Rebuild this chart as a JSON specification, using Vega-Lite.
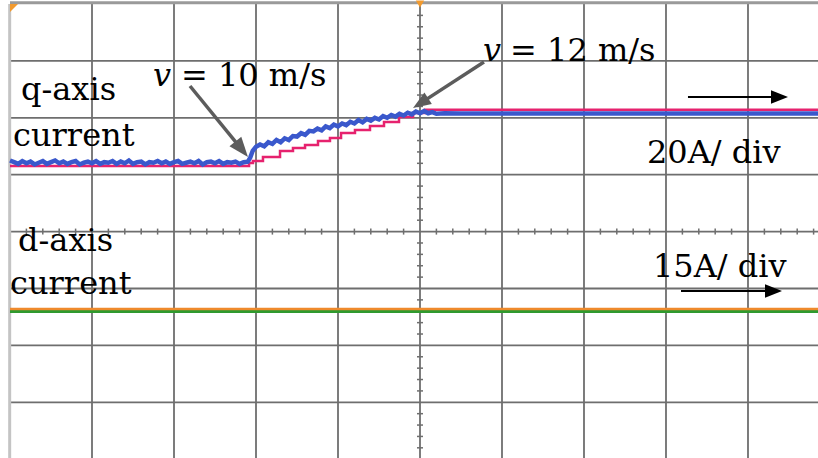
{
  "$schema": "https://vega.github.io/schema/vega-lite/v6.json",
  "width": 808,
  "height": 454,
  "autosize": {"type": "none"},
  "padding": {"left": 10, "top": 4, "right": 0, "bottom": 0},
  "background": "white",
  "config": {"view": {"stroke": null}},
  "datasets": {
    "xticks": [{"x":0.2},{"x":0.4},{"x":0.6},{"x":0.8},{"x":1.2},{"x":1.4},{"x":1.6},{"x":1.8},{"x":2.2},{"x":2.4},{"x":2.6},{"x":2.8},{"x":3.2},{"x":3.4},{"x":3.6},{"x":3.8},{"x":4.2},{"x":4.4},{"x":4.6},{"x":4.8},{"x":5.2},{"x":5.4},{"x":5.6},{"x":5.8},{"x":6.2},{"x":6.4},{"x":6.6},{"x":6.8},{"x":7.2},{"x":7.4},{"x":7.6},{"x":7.8},{"x":8.2},{"x":8.4},{"x":8.6},{"x":8.8},{"x":9.2},{"x":9.4},{"x":9.6},{"x":9.8}],
    "yticks": [{"y":3.8},{"y":3.6},{"y":3.4},{"y":3.2},{"y":2.8},{"y":2.6},{"y":2.4},{"y":2.2},{"y":1.8},{"y":1.6},{"y":1.4},{"y":1.2},{"y":0.8},{"y":0.6},{"y":0.4},{"y":0.2},{"y":-0.2},{"y":-0.4},{"y":-0.6},{"y":-0.8},{"y":-1.2},{"y":-1.4},{"y":-1.6},{"y":-1.8},{"y":-2.2},{"y":-2.4},{"y":-2.6},{"y":-2.8},{"y":-3.2},{"y":-3.4},{"y":-3.6},{"y":-3.8}],
    "vgrid": [{"x": 1}, {"x": 2}, {"x": 3}, {"x": 4}, {"x": 5}, {"x": 6}, {"x": 7}, {"x": 8}, {"x": 9}],
    "hgrid": [{"y": 3}, {"y": 2}, {"y": 1}, {"y": 0}, {"y": -1}, {"y": -2}, {"y": -3}],
    "leftBorder": [{"x": -0.004}],
    "topBorder": [{"y": 4.02}],
    "dGreen": [{"x": 0, "y": -1.404}, {"x": 9.86, "y": -1.404}],
    "dOrange": [{"x": 0, "y": -1.36}, {"x": 9.86, "y": -1.36}],
    "qPink": [
      {"x": 0, "y": 1.153}, {"x": 2.915, "y": 1.206}, {"x": 2.963, "y": 1.241}, {"x": 3.085, "y": 1.311},
      {"x": 3.293, "y": 1.417}, {"x": 3.451, "y": 1.469}, {"x": 3.598, "y": 1.522}, {"x": 3.756, "y": 1.592},
      {"x": 3.902, "y": 1.645}, {"x": 4.037, "y": 1.733}, {"x": 4.207, "y": 1.786}, {"x": 4.39, "y": 1.856},
      {"x": 4.561, "y": 1.926}, {"x": 4.744, "y": 2.014}, {"x": 4.915, "y": 2.084}, {"x": 5.061, "y": 2.14},
      {"x": 9.86, "y": 2.14}
    ],
    "qBlue": [
      {"x":0.00,"y":1.25},{"x":0.05,"y":1.22},{"x":0.10,"y":1.19},{"x":0.15,"y":1.24},{"x":0.20,"y":1.20},{"x":0.25,"y":1.23},
      {"x":0.30,"y":1.18},{"x":0.35,"y":1.21},{"x":0.40,"y":1.24},{"x":0.45,"y":1.19},{"x":0.50,"y":1.22},{"x":0.55,"y":1.25},
      {"x":0.60,"y":1.20},{"x":0.65,"y":1.23},{"x":0.70,"y":1.19},{"x":0.75,"y":1.22},{"x":0.80,"y":1.24},{"x":0.85,"y":1.18},
      {"x":0.90,"y":1.21},{"x":0.95,"y":1.23},{"x":1.00,"y":1.20},{"x":1.05,"y":1.24},{"x":1.10,"y":1.19},{"x":1.15,"y":1.22},
      {"x":1.20,"y":1.21},{"x":1.25,"y":1.24},{"x":1.30,"y":1.19},{"x":1.35,"y":1.23},{"x":1.40,"y":1.20},{"x":1.45,"y":1.25},
      {"x":1.50,"y":1.19},{"x":1.55,"y":1.22},{"x":1.60,"y":1.23},{"x":1.65,"y":1.18},{"x":1.70,"y":1.22},{"x":1.75,"y":1.21},
      {"x":1.80,"y":1.24},{"x":1.85,"y":1.20},{"x":1.90,"y":1.23},{"x":1.95,"y":1.19},{"x":2.00,"y":1.22},{"x":2.05,"y":1.24},
      {"x":2.10,"y":1.19},{"x":2.15,"y":1.21},{"x":2.20,"y":1.23},{"x":2.25,"y":1.20},{"x":2.30,"y":1.24},{"x":2.35,"y":1.18},
      {"x":2.40,"y":1.22},{"x":2.45,"y":1.23},{"x":2.50,"y":1.20},{"x":2.55,"y":1.24},{"x":2.60,"y":1.19},{"x":2.65,"y":1.22},
      {"x":2.70,"y":1.21},{"x":2.75,"y":1.23},{"x":2.80,"y":1.19},{"x":2.85,"y":1.22},{"x":2.90,"y":1.23},
      {"x": 2.93, "y": 1.3}, {"x": 2.96, "y": 1.42}, {"x": 3.0, "y": 1.49},
      {"x": 3.05, "y": 1.53}, {"x": 3.1, "y": 1.5}, {"x": 3.15, "y": 1.57}, {"x": 3.2, "y": 1.54}, {"x": 3.25, "y": 1.61},
      {"x": 3.3, "y": 1.57}, {"x": 3.35, "y": 1.64}, {"x": 3.4, "y": 1.61}, {"x": 3.45, "y": 1.68}, {"x": 3.5, "y": 1.67},
      {"x": 3.55, "y": 1.73}, {"x": 3.6, "y": 1.7}, {"x": 3.65, "y": 1.77}, {"x": 3.7, "y": 1.76}, {"x": 3.75, "y": 1.81},
      {"x": 3.8, "y": 1.78}, {"x": 3.85, "y": 1.85}, {"x": 3.9, "y": 1.82}, {"x": 3.95, "y": 1.88}, {"x": 4.0, "y": 1.85},
      {"x": 4.05, "y": 1.9}, {"x": 4.1, "y": 1.87}, {"x": 4.15, "y": 1.93}, {"x": 4.2, "y": 1.9}, {"x": 4.25, "y": 1.96},
      {"x": 4.3, "y": 1.92}, {"x": 4.35, "y": 1.98}, {"x": 4.4, "y": 1.95}, {"x": 4.45, "y": 2.0}, {"x": 4.5, "y": 1.97},
      {"x": 4.55, "y": 2.03}, {"x": 4.6, "y": 2.0}, {"x": 4.65, "y": 2.05}, {"x": 4.7, "y": 2.02}, {"x": 4.75, "y": 2.07},
      {"x": 4.8, "y": 2.04}, {"x": 4.85, "y": 2.09}, {"x": 4.9, "y": 2.06}, {"x": 4.95, "y": 2.11}, {"x": 5.0, "y": 2.08},
      {"x": 5.05, "y": 2.12}, {"x": 5.1, "y": 2.08}, {"x": 5.15, "y": 2.1}, {"x": 5.2, "y": 2.07}, {"x": 5.3, "y": 2.08},
      {"x": 5.5, "y": 2.075}, {"x": 7.0, "y": 2.075}, {"x": 9.86, "y": 2.075}
    ],
    "grayLine1": [{"x": 2.195, "y": 2.559, "x2": 2.826, "y2": 1.446}],
    "grayHead1": [{"x": 2.902, "y": 1.311}],
    "grayLine2": [{"x": 5.78, "y": 2.981, "x2": 5.017, "y2": 2.267}],
    "grayHead2": [{"x": 4.915, "y": 2.172}],
    "blackLines": [{"x": 8.268, "y": 2.366, "x2": 9.39, "y2": 2.366}, {"x": 8.183, "y": -1.044, "x2": 9.317, "y2": -1.044}],
    "blackHeads": [{"x": 9.488, "y": 2.366}, {"x": 9.415, "y": -1.044}],
    "labels": [
      {"x": 0.134, "y": 2.313, "t": "q-axis"},
      {"x": 0.037, "y": 1.504, "t": "current"},
      {"x": 0.098, "y": -0.341, "t": "d-axis"},
      {"x": 0.0, "y": -1.097, "t": "current"},
      {"x": 7.768, "y": 1.206, "t": "20A/ div"},
      {"x": 7.841, "y": -0.798, "t": "15A/ div"},
      {"x": 2.085, "y": 2.559, "t": "= 10 m/s"},
      {"x": 6.098, "y": 2.998, "t": "= 12 m/s"}
    ],
    "italicLabels": [
      {"x": 1.744, "y": 2.559, "t": "v"},
      {"x": 5.768, "y": 2.998, "t": "v"}
    ],
    "trigger": [{"x": 5, "y": 4.0}],
    "corner": [{"x": 0, "y": 4.0}]
  },
  "layer": [
    {
      "data": {"name": "vgrid"},
      "mark": {"type": "rule", "color": "#6e6e6e", "strokeWidth": 1.8},
      "encoding": {"x": {"field": "x", "type": "quantitative", "scale": {"domain": [0, 9.8537], "nice": false, "zero": false}, "axis": null}}
    },
    {
      "data": {"name": "hgrid"},
      "mark": {"type": "rule", "color": "#6e6e6e", "strokeWidth": 1.8},
      "encoding": {"y": {"field": "y", "type": "quantitative", "scale": {"domain": [-3.979, 4], "nice": false, "zero": false}, "axis": null}}
    },
    {
      "data": {"name": "xticks"},
      "mark": {"type": "rule", "color": "#6e6e6e", "strokeWidth": 1.5, "yOffset": -3, "y2Offset": 3},
      "encoding": {
        "x": {"field": "x", "type": "quantitative", "scale": {"domain": [0, 9.8537], "nice": false, "zero": false}, "axis": null},
        "y": {"datum": 0, "type": "quantitative", "scale": {"domain": [-3.979, 4], "nice": false, "zero": false}, "axis": null},
        "y2": {"datum": 0}
      }
    },
    {
      "data": {"name": "yticks"},
      "mark": {"type": "rule", "color": "#6e6e6e", "strokeWidth": 1.5, "xOffset": -3, "x2Offset": 3},
      "encoding": {
        "y": {"field": "y", "type": "quantitative", "scale": {"domain": [-3.979, 4], "nice": false, "zero": false}, "axis": null},
        "x": {"datum": 5, "type": "quantitative", "scale": {"domain": [0, 9.8537], "nice": false, "zero": false}, "axis": null},
        "x2": {"datum": 5}
      }
    },
    {
      "data": {"name": "leftBorder"},
      "mark": {"type": "rule", "color": "#c4c4c4", "strokeWidth": 3},
      "encoding": {"x": {"field": "x", "type": "quantitative", "scale": {"domain": [0, 9.8537], "nice": false, "zero": false}, "axis": null}}
    },
    {
      "data": {"name": "topBorder"},
      "mark": {"type": "rule", "color": "#9a9a9a", "strokeWidth": 3},
      "encoding": {"y": {"field": "y", "type": "quantitative", "scale": {"domain": [-3.979, 4], "nice": false, "zero": false}, "axis": null}}
    },
    {
      "data": {"name": "dGreen"},
      "mark": {"type": "line", "color": "#2f9a2f", "strokeWidth": 3},
      "encoding": {
        "x": {"field": "x", "type": "quantitative", "scale": {"domain": [0, 9.8537], "nice": false, "zero": false}, "axis": null},
        "y": {"field": "y", "type": "quantitative", "scale": {"domain": [-3.979, 4], "nice": false, "zero": false}, "axis": null}
      }
    },
    {
      "data": {"name": "dOrange"},
      "mark": {"type": "line", "color": "#ef8a2c", "strokeWidth": 2.5},
      "encoding": {
        "x": {"field": "x", "type": "quantitative", "scale": {"domain": [0, 9.8537], "nice": false, "zero": false}, "axis": null},
        "y": {"field": "y", "type": "quantitative", "scale": {"domain": [-3.979, 4], "nice": false, "zero": false}, "axis": null}
      }
    },
    {
      "data": {"name": "qPink"},
      "mark": {"type": "line", "color": "#e6226e", "strokeWidth": 2.5, "interpolate": "step-after"},
      "encoding": {
        "x": {"field": "x", "type": "quantitative", "scale": {"domain": [0, 9.8537], "nice": false, "zero": false}, "axis": null},
        "y": {"field": "y", "type": "quantitative", "scale": {"domain": [-3.979, 4], "nice": false, "zero": false}, "axis": null}
      }
    },
    {
      "data": {"name": "qBlue"},
      "mark": {"type": "line", "color": "#3a58cc", "strokeWidth": 4.5},
      "encoding": {
        "x": {"field": "x", "type": "quantitative", "scale": {"domain": [0, 9.8537], "nice": false, "zero": false}, "axis": null},
        "y": {"field": "y", "type": "quantitative", "scale": {"domain": [-3.979, 4], "nice": false, "zero": false}, "axis": null}
      }
    },
    {
      "data": {"name": "grayLine1"},
      "mark": {"type": "rule", "color": "#5c5c5c", "strokeWidth": 3.5},
      "encoding": {
        "x": {"field": "x", "type": "quantitative", "scale": {"domain": [0, 9.8537], "nice": false, "zero": false}, "axis": null},
        "y": {"field": "y", "type": "quantitative", "scale": {"domain": [-3.979, 4], "nice": false, "zero": false}, "axis": null},
        "x2": {"field": "x2"},
        "y2": {"field": "y2"}
      }
    },
    {
      "data": {"name": "grayHead1"},
      "mark": {"type": "point", "shape": "M0,0L0.38,1L-0.38,1Z", "filled": true, "color": "#5c5c5c", "opacity": 1, "size": 1600, "angle": 141},
      "encoding": {
        "x": {"field": "x", "type": "quantitative", "scale": {"domain": [0, 9.8537], "nice": false, "zero": false}, "axis": null},
        "y": {"field": "y", "type": "quantitative", "scale": {"domain": [-3.979, 4], "nice": false, "zero": false}, "axis": null}
      }
    },
    {
      "data": {"name": "grayLine2"},
      "mark": {"type": "rule", "color": "#5c5c5c", "strokeWidth": 3.5},
      "encoding": {
        "x": {"field": "x", "type": "quantitative", "scale": {"domain": [0, 9.8537], "nice": false, "zero": false}, "axis": null},
        "y": {"field": "y", "type": "quantitative", "scale": {"domain": [-3.979, 4], "nice": false, "zero": false}, "axis": null},
        "x2": {"field": "x2"},
        "y2": {"field": "y2"}
      }
    },
    {
      "data": {"name": "grayHead2"},
      "mark": {"type": "point", "shape": "M0,0L0.38,1L-0.38,1Z", "filled": true, "color": "#5c5c5c", "opacity": 1, "size": 1296, "angle": 237},
      "encoding": {
        "x": {"field": "x", "type": "quantitative", "scale": {"domain": [0, 9.8537], "nice": false, "zero": false}, "axis": null},
        "y": {"field": "y", "type": "quantitative", "scale": {"domain": [-3.979, 4], "nice": false, "zero": false}, "axis": null}
      }
    },
    {
      "data": {"name": "blackLines"},
      "mark": {"type": "rule", "color": "#000000", "strokeWidth": 2},
      "encoding": {
        "x": {"field": "x", "type": "quantitative", "scale": {"domain": [0, 9.8537], "nice": false, "zero": false}, "axis": null},
        "y": {"field": "y", "type": "quantitative", "scale": {"domain": [-3.979, 4], "nice": false, "zero": false}, "axis": null},
        "x2": {"field": "x2"},
        "y2": {"field": "y2"}
      }
    },
    {
      "data": {"name": "blackHeads"},
      "mark": {"type": "point", "shape": "M0,0L0.4,1L-0.4,1Z", "filled": true, "color": "#000000", "opacity": 1, "size": 1156, "angle": 90},
      "encoding": {
        "x": {"field": "x", "type": "quantitative", "scale": {"domain": [0, 9.8537], "nice": false, "zero": false}, "axis": null},
        "y": {"field": "y", "type": "quantitative", "scale": {"domain": [-3.979, 4], "nice": false, "zero": false}, "axis": null}
      }
    },
    {
      "data": {"name": "labels"},
      "mark": {"type": "text", "font": "DejaVu Serif", "fontSize": 32, "align": "left", "baseline": "alphabetic", "color": "#000000"},
      "encoding": {
        "x": {"field": "x", "type": "quantitative", "scale": {"domain": [0, 9.8537], "nice": false, "zero": false}, "axis": null},
        "y": {"field": "y", "type": "quantitative", "scale": {"domain": [-3.979, 4], "nice": false, "zero": false}, "axis": null},
        "text": {"field": "t"}
      }
    },
    {
      "data": {"name": "italicLabels"},
      "mark": {"type": "text", "font": "DejaVu Serif", "fontStyle": "italic", "fontSize": 32, "align": "left", "baseline": "alphabetic", "color": "#000000"},
      "encoding": {
        "x": {"field": "x", "type": "quantitative", "scale": {"domain": [0, 9.8537], "nice": false, "zero": false}, "axis": null},
        "y": {"field": "y", "type": "quantitative", "scale": {"domain": [-3.979, 4], "nice": false, "zero": false}, "axis": null},
        "text": {"field": "t"}
      }
    },
    {
      "data": {"name": "trigger"},
      "mark": {"type": "point", "shape": "triangle-down", "filled": true, "color": "#f29a2e", "opacity": 1, "size": 70},
      "encoding": {
        "x": {"field": "x", "type": "quantitative", "scale": {"domain": [0, 9.8537], "nice": false, "zero": false}, "axis": null},
        "y": {"field": "y", "type": "quantitative", "scale": {"domain": [-3.979, 4], "nice": false, "zero": false}, "axis": null}
      }
    },
    {
      "data": {"name": "corner"},
      "mark": {"type": "point", "shape": "M0,0L1,0L0,1Z", "filled": true, "color": "#f29a2e", "opacity": 1, "size": 256},
      "encoding": {
        "x": {"field": "x", "type": "quantitative", "scale": {"domain": [0, 9.8537], "nice": false, "zero": false}, "axis": null},
        "y": {"field": "y", "type": "quantitative", "scale": {"domain": [-3.979, 4], "nice": false, "zero": false}, "axis": null}
      }
    }
  ]
}
